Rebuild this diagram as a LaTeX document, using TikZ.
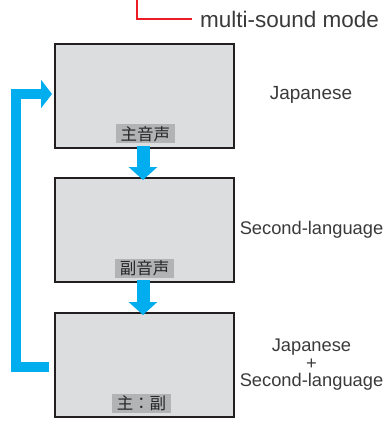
\documentclass[tikz,border=0pt]{standalone}
\usepackage{fontspec}
\setmainfont{Liberation Sans}
\newfontfamily\jpfont{Noto Sans CJK JP}
\usepackage{xcolor}
\usetikzlibrary{arrows.meta,positioning}
\definecolor{tvblue}{HTML}{00AEEF}
\definecolor{tvred}{HTML}{ED1C24}
\definecolor{tvgrey}{HTML}{DCDDDE}
\definecolor{tvtag}{HTML}{B2B3B5}
\definecolor{tvline}{HTML}{231F20}
\definecolor{tvtext}{HTML}{3A3A3A}

\begin{document}
\begin{tikzpicture}[x=1pt, y=-1pt,
    screen/.style={draw=tvline, line width=2pt, fill=tvgrey, minimum width=179pt, minimum height=104pt, inner sep=0pt},
    tag/.style={fill=tvtag, inner xsep=5pt, inner ysep=1pt, minimum height=19pt, font=\jpfont\fontsize{16.5}{17}\selectfont, text=black!85},
    lbl/.style={font=\fontsize{19}{18}\selectfont, text=tvtext, align=center},
    flow/.style={tvblue, line width=13pt, -{Triangle[width=28pt,length=13pt]}},
    loopback/.style={tvblue, line width=10pt, -{Triangle[width=28pt,length=11pt]}}]
    % page size
    \useasboundingbox (0,0) rectangle (390,424);
    % Screens
    \node[screen] (s1) at (144.5,95.5) {};
    \node[screen] (s2) at (144.5,230) {};
    \node[screen] (s3) at (144.5,365) {};
    % Sound tags
    \node[tag, above=5pt of s1.south, xshift=1pt] (t1) {主音声};
    \node[tag, above=5pt of s2.south] (t2) {副音声};
    \node[tag, above=5pt of s3.south, xshift=-3pt] (t3) {主：副};
    % Arrows between screens
    \draw[flow] ([xshift=-1.5pt,yshift=3pt]s1.south) -- ([xshift=-1.5pt,yshift=-3pt]s2.north);
    \draw[flow] ([xshift=-1.5pt,yshift=3pt]s2.south) -- ([xshift=-1.5pt,yshift=-3pt]s3.north);
    % Back to the first screen
    \draw[loopback] ([xshift=-5pt,yshift=-2pt]s3.west) -- ++(-33,0) |- ([xshift=-2pt,yshift=1.5pt]s1.west);
    % Languages
    \node[lbl] (l1) at (311,95) {Japanese};
    \node[lbl, font=\fontsize{18.3}{18}\selectfont] (l2) at (311.5,230) {Second-language};
    \node[lbl, font=\fontsize{18.3}{17.5}\selectfont] (l3) at (311.5,365) {Japanese\\+\\Second-language};
    % Button callout
    \coordinate (btn) at (137,0);
    \node[lbl, font=\fontsize{22.5}{20}\selectfont, anchor=west, inner sep=0pt] (msm) at (200,19) {multi-sound mode};
    \draw[tvred, line width=1.5pt] ([xshift=-8pt]msm.west) -| (btn);
\end{tikzpicture}
\end{document}
